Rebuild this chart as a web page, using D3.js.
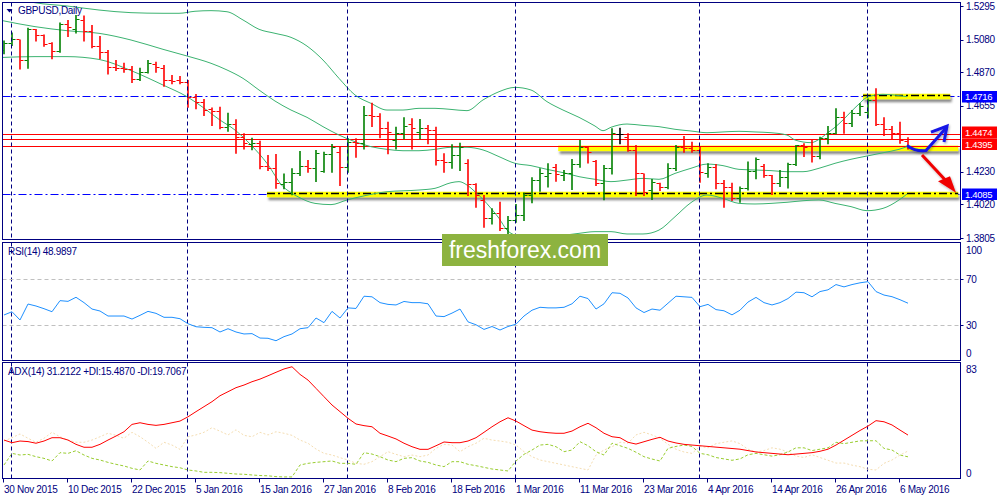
<!DOCTYPE html>
<html><head><meta charset="utf-8">
<script src="https://cdn.jsdelivr.net/npm/d3@7"></script>
<style>
body{margin:0;background:#fff}
svg{display:block}
text{font-family:"Liberation Sans",Arial,sans-serif;font-size:10px;letter-spacing:-0.3px}
</style>
</head><body>
<svg id="c" width="1000" height="500"></svg>
<script>
// ---------- DATA ----------
const symbolTitle = "GBPUSD,Daily";
const rsiTitle = "RSI(14) 48.9897";
const adxTitle = "ADX(14) 31.2122 +DI:15.4870 -DI:19.7067";
const watermark = "freshforex.com";

const startDate = "2015-11-30", holidays = ["2015-12-25", "2016-01-01"], barCount = 114;

const open = [1.5014,1.5056,1.5082,1.4949,1.5149,1.5112,1.5056,1.5009,1.5181,1.5147,
1.5207,1.5138,1.5039,1.5003,1.4902,1.4895,1.4889,1.4825,1.4874,1.4921,
1.4895,1.4820,1.4820,1.4810,1.4713,1.4681,1.4631,1.4621,1.4516,1.4535,
1.4455,1.4408,1.4417,1.4269,1.4252,1.4151,1.4166,1.4224,1.4267,1.4252,
1.4237,1.4344,1.4359,1.4262,1.4423,1.4413,1.4595,1.4589,1.4509,1.4434,
1.4477,1.4537,1.4488,1.4509,1.4498,1.4305,1.4295,1.4337,1.4284,1.4151,
1.4048,1.3930,1.3962,1.3865,1.3919,1.3951,1.4080,1.4176,1.4202,1.4262,
1.4209,1.4219,1.4279,1.4387,1.4301,1.4155,1.4252,1.4473,1.4455,1.4370,
1.4219,1.4112,1.4155,1.4129,1.4252,1.4391,1.4380,1.4370,1.4224,1.4262,
1.4155,1.4134,1.4058,1.4123,1.4237,1.4267,1.4209,1.4159,1.4198,1.4279,
1.4400,1.4395,1.4331,1.4445,1.4481,1.4584,1.4546,1.4606,1.4616,1.4692,
1.4537,1.4503,1.4477,1.4430];
const high = [1.5074,1.5127,1.5082,1.5157,1.5149,1.5114,1.5063,1.5190,1.5207,1.5239,
1.5235,1.5175,1.5104,1.5014,1.4949,1.4932,1.4911,1.4900,1.4949,1.4938,
1.4917,1.4853,1.4846,1.4820,1.4730,1.4698,1.4644,1.4649,1.4610,1.4567,
1.4477,1.4449,1.4430,1.4337,1.4344,1.4219,1.4252,1.4363,1.4305,1.4370,
1.4359,1.4408,1.4391,1.4445,1.4445,1.4653,1.4674,1.4606,1.4552,1.4520,
1.4580,1.4574,1.4569,1.4531,1.4520,1.4348,1.4406,1.4417,1.4310,1.4155,
1.4080,1.3994,1.4037,1.3945,1.4022,1.4095,1.4194,1.4252,1.4284,1.4279,
1.4241,1.4312,1.4434,1.4391,1.4305,1.4273,1.4509,1.4513,1.4477,1.4402,
1.4219,1.4183,1.4159,1.4284,1.4402,1.4460,1.4423,1.4391,1.4284,1.4279,
1.4176,1.4159,1.4134,1.4295,1.4322,1.4279,1.4209,1.4241,1.4288,1.4402,
1.4413,1.4434,1.4455,1.4524,1.4638,1.4616,1.4627,1.4670,1.4702,1.4767,
1.4580,1.4524,1.4552,1.4451];
const low = [1.4992,1.5046,1.4895,1.4900,1.5074,1.5041,1.4960,1.5003,1.5104,1.5127,
1.5074,1.5031,1.4960,1.4863,1.4885,1.4874,1.4807,1.4820,1.4868,1.4874,
1.4784,1.4799,1.4799,1.4649,1.4638,1.4595,1.4531,1.4509,1.4494,1.4352,
1.4380,1.4374,1.4252,1.4241,1.4127,1.4123,1.4084,1.4209,1.4230,1.4170,
1.4230,1.4230,1.4144,1.4230,1.4327,1.4380,1.4524,1.4451,1.4348,1.4380,
1.4445,1.4380,1.4445,1.4413,1.4277,1.4230,1.4256,1.4241,1.4080,1.4005,
1.3876,1.3897,1.3854,1.3833,1.3908,1.3919,1.4033,1.4108,1.4134,1.4172,
1.4176,1.4118,1.4262,1.4290,1.4144,1.4052,1.4219,1.4413,1.4365,1.4080,
1.4080,1.4054,1.4112,1.4123,1.4241,1.4359,1.4359,1.4166,1.4198,1.4123,
1.4005,1.4048,1.4037,1.4116,1.4187,1.4198,1.4086,1.4138,1.4129,1.4273,
1.4331,1.4295,1.4316,1.4413,1.4477,1.4481,1.4524,1.4595,1.4580,1.4531,
1.4466,1.4445,1.4417,1.4380];
const close = [1.5056,1.5082,1.4949,1.5149,1.5112,1.5052,1.5009,1.5181,1.5164,1.5211,
1.5138,1.5039,1.5003,1.4902,1.4895,1.4889,1.4825,1.4874,1.4928,1.4906,
1.4820,1.4814,1.4810,1.4713,1.4677,1.4627,1.4621,1.4516,1.4535,1.4455,
1.4413,1.4417,1.4269,1.4252,1.4159,1.4166,1.4224,1.4267,1.4252,1.4348,
1.4344,1.4391,1.4262,1.4423,1.4413,1.4595,1.4589,1.4509,1.4488,1.4477,
1.4524,1.4509,1.4509,1.4498,1.4305,1.4295,1.4337,1.4391,1.4151,1.4080,
1.3930,1.3962,1.3865,1.3919,1.3951,1.4080,1.4176,1.4224,1.4219,1.4215,
1.4219,1.4279,1.4387,1.4359,1.4155,1.4252,1.4481,1.4473,1.4370,1.4219,
1.4101,1.4166,1.4129,1.4252,1.4391,1.4380,1.4370,1.4230,1.4262,1.4159,
1.4134,1.4058,1.4123,1.4237,1.4310,1.4209,1.4159,1.4198,1.4279,1.4400,
1.4391,1.4331,1.4445,1.4481,1.4584,1.4546,1.4606,1.4655,1.4692,1.4537,
1.4503,1.4477,1.4434,1.4395];

// Bollinger bands read at [barIndex, price]
const bbUpper = [[0,1.5368],[4,1.5318],[8,1.5297],[12,1.5271],[16,1.5254],[20,1.5250],[22,1.5250],[24,1.5263],[26,1.5267],[28,1.5260],
[30,1.5207],[32,1.5147],[34,1.5121],[36,1.5095],[38,1.5039],[40,1.4949],[42,1.4831],[44,1.4724],[46,1.4670],[48,1.4627],
[50,1.4627],[52,1.4638],[54,1.4638],[56,1.4631],[58,1.4623],[60,1.4692],[62,1.4745],[64,1.4773],[66,1.4756],[68,1.4681],
[70,1.4627],[72,1.4580],[74,1.4524],[75,1.4494],[76,1.4516],[78,1.4537],[80,1.4528],[82,1.4520],[84,1.4503],[86,1.4492],
[88,1.4481],[90,1.4486],[92,1.4490],[94,1.4486],[96,1.4481],[98,1.4466],[99,1.4434],[101,1.4417],[102,1.4438],[103,1.4477],
[104,1.4516],[105,1.4563],[106,1.4616],[107,1.4666],[108,1.4709],[110,1.4728],[112,1.4720],[113,1.4713]];
const bbMiddle = [[0,1.5202],[4,1.5164],[8,1.5138],[12,1.5121],[16,1.5078],[20,1.5018],[23,1.4975],[26,1.4928],[28,1.4885],[30,1.4831],
[32,1.4756],[34,1.4685],[36,1.4627],[38,1.4580],[40,1.4520],[42,1.4466],[44,1.4423],[46,1.4391],[48,1.4374],[50,1.4365],
[52,1.4365],[54,1.4374],[56,1.4387],[58,1.4387],[60,1.4370],[62,1.4327],[64,1.4284],[66,1.4269],[68,1.4245],[70,1.4224],
[72,1.4198],[74,1.4181],[76,1.4166],[78,1.4176],[80,1.4187],[82,1.4181],[84,1.4219],[86,1.4252],[88,1.4279],[90,1.4269],
[92,1.4245],[94,1.4241],[96,1.4237],[98,1.4230],[100,1.4230],[102,1.4252],[104,1.4284],[106,1.4310],[108,1.4331],[110,1.4352],
[112,1.4374],[113,1.4391]];
const bbLower = [[0,1.4966],[4,1.4971],[8,1.4971],[12,1.4953],[16,1.4881],[20,1.4788],[23,1.4713],[25,1.4644],[27,1.4567],[29,1.4498],
[31,1.4402],[33,1.4284],[35,1.4134],[36,1.4095],[37,1.4065],[39,1.4026],[41,1.4018],[43,1.4048],[45,1.4073],[48,1.4101],
[52,1.4112],[54,1.4123],[56,1.4159],[57,1.4166],[58,1.4144],[59,1.4101],[60,1.4052],[61,1.3994],[62,1.3930],[63,1.3854],
[64,1.3822],[66,1.3807],[68,1.3807],[70,1.3820],[72,1.3833],[74,1.3844],[76,1.3844],[78,1.3829],[80,1.3829],[82,1.3854],
[84,1.3940],[86,1.4031],[88,1.4080],[90,1.4058],[92,1.4026],[94,1.4022],[96,1.4026],[98,1.4033],[100,1.4043],[102,1.4048],
[104,1.4026],[106,1.4005],[108,1.3979],[110,1.3994],[112,1.4048],[113,1.4086]];

const rsi = [38.9,41.7,34.6,48.3,46.6,44.3,41.7,51.2,50.6,54.1,
49.5,44,42.3,38,38,38,35.4,38.6,42,40.3,
36.9,36.9,35.7,31.4,28.8,28.3,28,24.3,27.1,24.3,
22.6,22.9,19.1,18.9,16.8,20.3,22.6,27.1,28,36.3,
32.3,42,36.3,45,44.5,55,54.5,49.5,48,47.5,
50.5,49.5,49.5,48.5,38,37.5,40.5,44,33,30.5,
26.5,29,26,29,31,38,43,45.5,45,45,
45.5,48.5,55,53,44,48.5,58,57.5,53.5,45,
41,44,43,49,55,54.5,54,46,48,43.5,
42.5,39,43,50,54,49.5,47.5,49.5,53,58.5,
58,54.5,59,60.5,65,63,65,66.5,67.5,59,
56,54.6,52,49];
const adx = [27.6,25.7,26.9,26.5,25.3,26.9,29.3,29.3,27.6,24.5,
22.4,22.4,24.5,27.6,30.5,33.6,38.9,40.1,38.9,38.2,
38.9,40.1,41.3,44.4,48.1,51.7,55.3,59.6,62.5,65.4,
67.3,69.7,71.6,74,76.5,78.9,80.5,75,70.9,64.9,
58.9,52.9,48.1,43.3,39.2,38,37.2,32.5,30.5,28.4,
25.3,22.8,20.9,20.9,23.5,26.2,25.7,25.7,26.9,29.3,
33.2,37.2,40.8,43.7,41.3,38,34.8,33.6,32.9,32.5,
32.5,34.1,37.2,39.7,36.5,32.5,30,29.3,26,24.7,
26.4,28.1,29.6,26.9,25.5,24.5,24,23.5,23,22.5,
22,21.5,21,20,19,18.5,18,17.5,17,17.5,
18,18.5,19.5,21,24,27.5,31,34.5,37.7,41.6,
40.8,38.5,34.8,31.2];
const plusDI = [9.6,18,16.8,17.3,15.6,14.4,12.5,18.5,18,19.9,
16.8,14.4,13.2,11.5,10.1,8.9,7.2,6,12.5,10.8,
9.6,8.4,7.6,6,5.3,4.3,4.3,4.1,3.6,3.1,
2.9,2.4,2,1.8,1.2,1,1,9.6,10.8,11.5,
12,12.5,10.8,10.8,10.1,18.5,17.5,15.6,13.2,12,
14.4,14.9,12.5,11.5,9.6,8.4,12,12,10.1,9.1,
7.9,6.7,6,5.3,12.5,17.3,20.4,24,24.5,22.8,
19.2,20.4,26.4,23.5,19.2,16.8,25.3,23.5,21.6,18.8,
15.6,13.9,12.5,21.6,23,24,23,18,17,15,
14,13,14,17,18,17,16,17,19,22,
22,20,21,22,26,25,26,27,27.1,27.1,
21.6,20.4,16.8,15.5];
const minusDI = [26.9,29.3,32,28.9,26,28.9,33.2,30,27.6,26,
26,27.6,30,32.5,31,28.9,33.2,30,26,21.6,
26,24,20.9,30,31.3,33.2,36.5,34,31.3,35,
31,30,33.2,31.3,33.6,32.5,31,27.6,25.3,21.1,
18,16.8,14.9,13.2,10.8,10.1,12,15.6,19.2,17.3,
15.6,16.8,15.6,16.8,21.6,24.5,24,19.2,22.8,25.3,
28.9,27.6,26.9,26,24,19.2,15.6,13.2,12,10.8,
9.6,8.4,7.2,6,16.8,20.4,22.8,26,25.3,31.3,
33.2,31.3,28.9,24.5,21,19,18,23,22,25,
26,27,25,21,19,20,22,21,19,16,
15,17,15,13,11,11,9.5,8.4,6.5,6,
10.8,13.2,16.8,19.7];

const priceTicks = [1.5295,1.5080,1.4870,1.4655,1.4230,1.4020,1.3805];
const rsiLevels = [70,30];
const rsiTicks = [100,70,30,0];
const adxTicks = [83,0];
const xTickLabels = ["30 Nov 2015","10 Dec 2015","22 Dec 2015","5 Jan 2016","15 Jan 2016","27 Jan 2016","8 Feb 2016","18 Feb 2016","1 Mar 2016","11 Mar 2016","23 Mar 2016","4 Apr 2016","14 Apr 2016","26 Apr 2016","6 May 2016"];
const levelsBlue = [1.4716, 1.4085];
const levelsRed = [1.4474, 1.4438, 1.4395];
const priceTags = [{v:1.4716,c:"#0000ff"},{v:1.4474,c:"#ff0000"},{v:1.4395,c:"#ff0000"},{v:1.4085,c:"#0000ff"}];
// highlighted (yellow) zones: [fromBar, toBar, price]
const zones = [[107.5, 118.4, 1.4716],[69.4, 119.4, 1.4395],[33, 119.4, 1.4085]];
// black trend segments on zones
const trendSegs = [[107.5, 118.4, 1.4716],[33, 119.4, 1.4085]];

// ---------- BUILD ----------
const parse = d3.utcParse("%Y-%m-%d"), fmt = d3.utcFormat("%Y-%m-%d");
const dates = [];
for (let d = parse(startDate); dates.length < barCount; d = d3.utcDay.offset(d, 1)) {
  const wd = d.getUTCDay();
  if (wd === 0 || wd === 6 || holidays.includes(fmt(d))) continue;
  dates.push(d);
}

const NAVY = "#000080";
const L = 2.5, R = 960.5;
const P1 = {t:2.5, b:239.5}, P2 = {t:242.5, b:360.5}, P3 = {t:362.5, b:478.5};

const x = d3.scaleLinear().domain([0, barCount - 1]).range([3, 3 + 8 * (barCount - 1)]);
const y = d3.scaleLinear().domain([1.3805, 1.5295]).range([237.7, 6.3]);
const yR = d3.scaleLinear().domain([0, 100]).range([360.3, 243.8]);
const yA = d3.scaleLinear().domain([0, 83]).range([478.3, 363.3]);

const svg = d3.select("#c");
const defs = svg.append("defs");
[["clipM", P1], ["clipR", P2], ["clipA", P3]].forEach(([id, p]) => {
  defs.append("clipPath").attr("id", id).append("rect")
    .attr("x", L + 0.5).attr("y", p.t + 0.5).attr("width", R - L - 1).attr("height", p.b - p.t - 1);
});
const sh = defs.append("filter").attr("id", "shadow").attr("x", "-5%").attr("y", "-100%").attr("width", "110%").attr("height", "400%");
sh.append("feDropShadow").attr("dx", 1.5).attr("dy", 3).attr("stdDeviation", 1.3).attr("flood-color", "#000").attr("flood-opacity", 0.45);
const sh2 = defs.append("filter").attr("id", "ashadow").attr("x", "-30%").attr("y", "-30%").attr("width", "160%").attr("height", "160%");
sh2.append("feDropShadow").attr("dx", 1).attr("dy", 1.5).attr("stdDeviation", 1).attr("flood-color", "#000").attr("flood-opacity", 0.3);

// month separators
const sepIdx = dates.map((d, i) => i).filter(i => i > 0 && dates[i].getUTCMonth() !== dates[i - 1].getUTCMonth());

// ---------- MAIN PANEL ----------
const gM = svg.append("g").attr("clip-path", "url(#clipM)");
[P1, P2, P3].forEach(p => {
  svg.append("g").selectAll("line").data(sepIdx).join("line")
    .attr("x1", i => x(i) + 0.5).attr("x2", i => x(i) + 0.5)
    .attr("y1", p.t).attr("y2", p.b)
    .attr("stroke", NAVY).attr("stroke-dasharray", "4,3").attr("stroke-width", 1);
});
gM.selectAll(".lb").data(levelsBlue).join("line")
  .attr("x1", L).attr("x2", R).attr("y1", d => Math.round(y(d)) + 0.5).attr("y2", d => Math.round(y(d)) + 0.5)
  .attr("stroke", "#0000ff").attr("stroke-width", 1.1).attr("stroke-dasharray", "8,3,2,3");
// yellow zones
gM.selectAll(".zone").data(zones).join("rect")
  .attr("x", d => x(d[0])).attr("width", d => x(d[1]) - x(d[0]))
  .attr("y", (d, k) => y(d[2]) - (k === 1 ? 0.5 : 2.5)).attr("height", 5.5)
  .attr("fill", "#ffff00").attr("filter", "url(#shadow)");
gM.selectAll(".lr").data(levelsRed).join("line")
  .attr("x1", L).attr("x2", R).attr("y1", d => Math.round(y(d)) + 0.5).attr("y2", d => Math.round(y(d)) + 0.5)
  .attr("stroke", "#ff0000").attr("stroke-width", 1);
gM.selectAll(".tr").data(trendSegs).join("line")
  .attr("x1", d => x(d[0])).attr("x2", d => x(d[1]))
  .attr("y1", d => Math.round(y(d[2])) - 0.5).attr("y2", d => Math.round(y(d[2])) - 0.5)
  .attr("stroke", "#000").attr("stroke-width", 1.5).attr("stroke-dasharray", "8,3,2,3");

// Bollinger
const bbLine = d3.line().x(d => x(d[0])).y(d => y(d[1])).curve(d3.curveMonotoneX);
[bbUpper, bbMiddle, bbLower].forEach(s => {
  gM.append("path").attr("d", bbLine(s)).attr("fill", "none").attr("stroke", "#3cb371").attr("stroke-width", 1);
});

// OHLC bars
const bars = gM.selectAll(".bar").data(d3.range(barCount)).join("g")
  .attr("stroke", i => close[i] > open[i] ? "#008000" : close[i] < open[i] ? "#ff0000" : "#000000");
bars.append("line").attr("x1", i => x(i) + 1).attr("x2", i => x(i) + 1)
  .attr("y1", i => y(high[i])).attr("y2", i => y(low[i]) + 1).attr("stroke-width", 1.6);
bars.append("line").attr("x1", i => x(i) - 2.5).attr("x2", i => x(i) + 0.5)
  .attr("y1", i => Math.round(y(open[i])) + 0.5).attr("y2", i => Math.round(y(open[i])) + 0.5).attr("stroke-width", 1);
bars.append("line").attr("x1", i => x(i) + 1.5).attr("x2", i => x(i) + 4.5)
  .attr("y1", i => Math.round(y(close[i])) + 0.5).attr("y2", i => Math.round(y(close[i])) + 0.5).attr("stroke-width", 1);

// arrows (drawn annotations)
const last = barCount - 1;
const gArr = svg.append("g").attr("filter", "url(#ashadow)");
gArr.append("path")
  .attr("d", `M${x(last)+1},${y(close[last])} C${x(last)+6},${y(close[last])+4} ${x(last)+12},${y(close[last])+5} ${x(last)+19},${y(close[last])+4.5} L${x(last)+39},${y(close[last])-18}`)
  .attr("fill", "none").attr("stroke", "#1414e6").attr("stroke-width", 3).attr("stroke-linecap", "round");
gArr.append("path")
  .attr("d", `M${x(last)+24},${y(close[last])-14} L${x(last)+40},${y(close[last])-20} L${x(last)+37},${y(close[last])-4}`)
  .attr("fill", "none").attr("stroke", "#1414e6").attr("stroke-width", 3).attr("stroke-linejoin", "miter");
gArr.append("line")
  .attr("x1", x(last) + 15).attr("y1", y(close[last]) + 9).attr("x2", x(last) + 45).attr("y2", y(1.4085) - 7)
  .attr("stroke", "#f00000").attr("stroke-width", 3);
gArr.append("path")
  .attr("d", `M${x(last)+49},${y(1.4085)-1.5} L${x(last)+31},${y(1.4085)-13} L${x(last)+43},${y(1.4085)-18} Z`)
  .attr("fill", "#f00000");

// ---------- RSI PANEL ----------
const gR = svg.append("g").attr("clip-path", "url(#clipR)");
gR.selectAll(".lv").data(rsiLevels).join("line")
  .attr("x1", L).attr("x2", R).attr("y1", d => Math.round(yR(d)) + 0.5).attr("y2", d => Math.round(yR(d)) + 0.5)
  .attr("stroke", "#c0c0c0").attr("stroke-dasharray", "4,3");
gR.append("path").attr("d", d3.line().x((d, i) => x(i) + 1).y(d => yR(d))(rsi))
  .attr("fill", "none").attr("stroke", "#1e90ff").attr("stroke-width", 1);

// ---------- ADX PANEL ----------
const gA = svg.append("g").attr("clip-path", "url(#clipA)");
const la = d3.line().x((d, i) => x(i) + 1).y(d => yA(d));
gA.append("path").attr("d", la(minusDI)).attr("fill", "none").attr("stroke", "#f5deb3").attr("stroke-width", 1).attr("stroke-dasharray", "2,2");
gA.append("path").attr("d", la(plusDI)).attr("fill", "none").attr("stroke", "#9acd32").attr("stroke-width", 1).attr("stroke-dasharray", "3,2");
gA.append("path").attr("d", la(adx)).attr("fill", "none").attr("stroke", "#ff0000").attr("stroke-width", 1);

// ---------- FRAMES & AXES ----------
[P1, P2, P3].forEach(p => {
  svg.append("rect").attr("x", L).attr("y", p.t).attr("width", R - L).attr("height", p.b - p.t)
    .attr("fill", "none").attr("stroke", NAVY).attr("stroke-width", 1);
});
// right price axis
const gY = svg.append("g");
gY.selectAll("line").data(priceTicks).join("line")
  .attr("x1", R).attr("x2", R + 3).attr("y1", d => Math.round(y(d)) + 0.5).attr("y2", d => Math.round(y(d)) + 0.5).attr("stroke", NAVY);
gY.selectAll("text").data(priceTicks).join("text")
  .attr("x", 966).attr("y", d => y(d) + 3.8).attr("fill", NAVY).text(d => d.toFixed(4));
// price tags
const tagTop = [91, 126.5, 138.5, 188.5];
const tags = svg.append("g").selectAll("g").data(priceTags).join("g");
tags.append("rect").attr("x", 962).attr("width", 35)
  .attr("y", (d, k) => tagTop[k]).attr("height", (d, k) => k === 1 ? 12 : 11.5).attr("fill", d => d.c);
tags.append("text").attr("x", 965).attr("y", (d, k) => tagTop[k] + 9)
  .style("font-size", "9.5px").attr("fill", "#fff").text(d => d.v.toFixed(4));

// RSI axis
const rsiPos = {100: 254, 0: 357};
svg.append("g").selectAll("text").data(rsiTicks).join("text")
  .attr("x", 966).attr("y", d => rsiPos[d] !== undefined ? rsiPos[d] : yR(d) + 3.8)
  .attr("fill", NAVY).text(d => d);
svg.append("g").selectAll("line").data(rsiLevels).join("line")
  .attr("x1", R).attr("x2", R + 3).attr("y1", d => Math.round(yR(d)) + 0.5).attr("y2", d => Math.round(yR(d)) + 0.5).attr("stroke", NAVY);
// ADX axis
const adxPos = {83: 373, 0: 476.5};
svg.append("g").selectAll("text").data(adxTicks).join("text")
  .attr("x", 966).attr("y", d => adxPos[d]).attr("fill", NAVY).text(d => d);

// time axis
const xt = svg.append("g");
xt.selectAll("line").data(xTickLabels).join("line")
  .attr("x1", (d, k) => x(k * 8) + 0.5).attr("x2", (d, k) => x(k * 8) + 0.5)
  .attr("y1", P3.b).attr("y2", P3.b + 4).attr("stroke", NAVY);
xt.selectAll("text").data(xTickLabels).join("text")
  .attr("x", (d, k) => x(k * 8) + 1).attr("y", 493).attr("fill", NAVY).text(d => d);

// titles
svg.append("path").attr("d", "M6.5,9 L12.5,9 L9.5,12.5 Z").attr("fill", NAVY);
svg.append("text").attr("x", 18).attr("y", 14).attr("fill", NAVY).text(symbolTitle);
svg.append("text").attr("x", 8).attr("y", 255).attr("fill", NAVY).text(rsiTitle);
svg.append("text").attr("x", 8).attr("y", 375).attr("fill", NAVY).text(adxTitle);

// watermark
svg.append("rect").attr("x", 442).attr("y", 234).attr("width", 166).attr("height", 32).attr("fill", "#8db340");
svg.append("text").attr("x", 525).attr("y", 258).attr("text-anchor", "middle")
  .style("font-size", "23px").style("letter-spacing", "0px").attr("fill", "#fff").text(watermark);
</script>
</body></html>
